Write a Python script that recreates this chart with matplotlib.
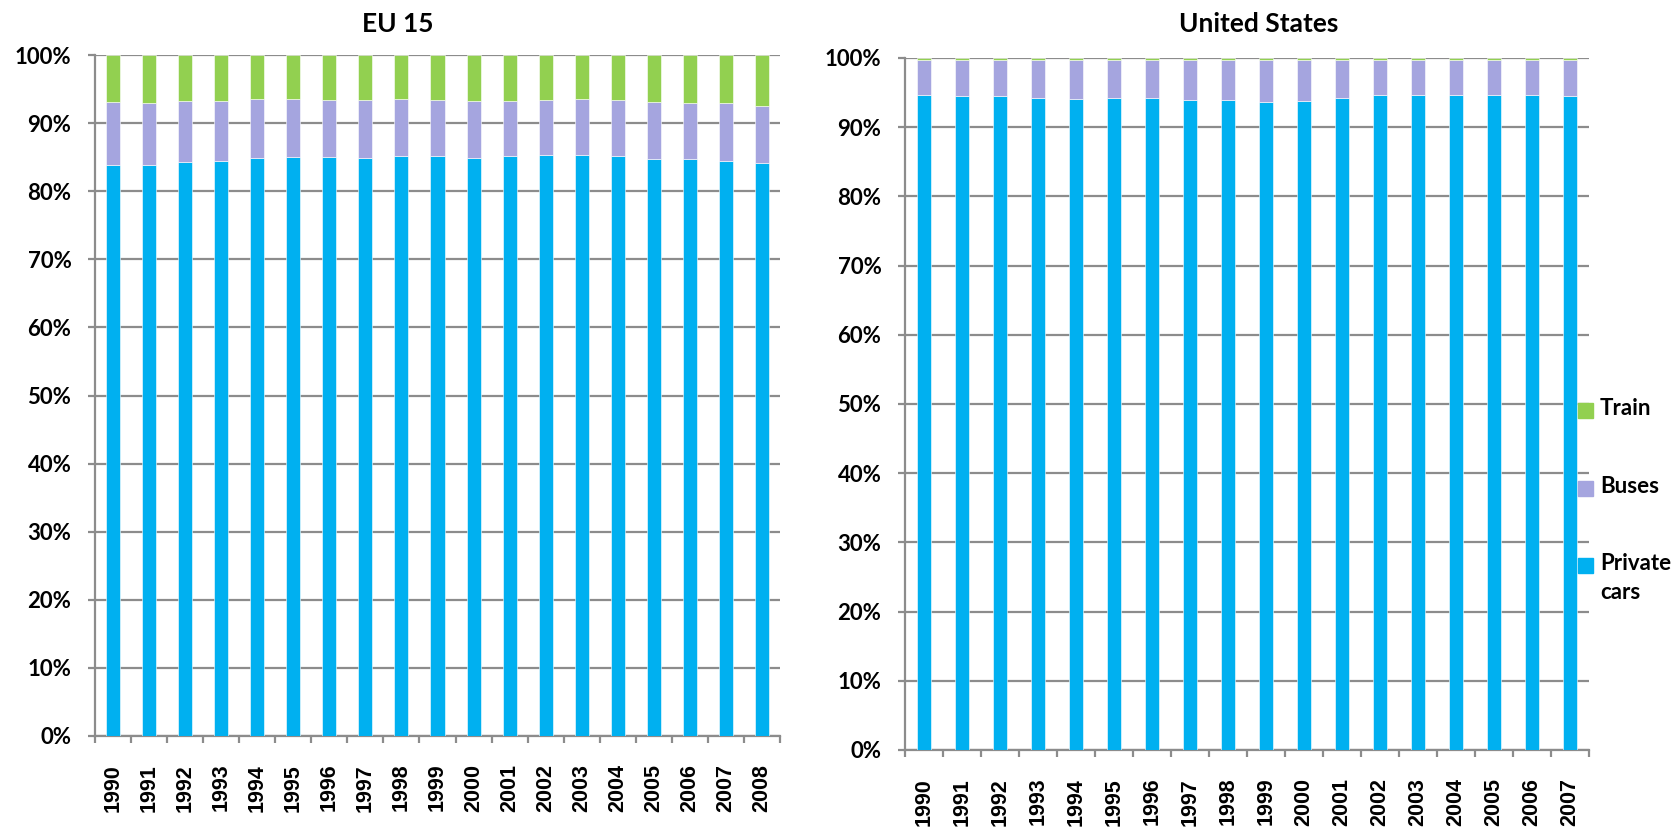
import numpy as np
import matplotlib.pyplot as plt
from matplotlib.patches import Rectangle

# Data (share of passenger-km, %)
eu_years = [str(y) for y in range(1990, 2009)]
eu_cars = [83.9, 83.8, 84.3, 84.5, 84.9, 85.0, 85.0, 84.9, 85.2, 85.1,
           84.9, 85.1, 85.3, 85.3, 85.1, 84.8, 84.8, 84.5, 84.1]
eu_buses = [9.2, 9.2, 8.9, 8.8, 8.7, 8.6, 8.4, 8.5, 8.3, 8.3,
            8.3, 8.1, 8.1, 8.2, 8.3, 8.3, 8.2, 8.5, 8.4]
eu_train = [6.9, 7.0, 6.8, 6.7, 6.4, 6.4, 6.6, 6.6, 6.5, 6.6,
            6.8, 6.8, 6.6, 6.5, 6.6, 6.9, 7.0, 7.0, 7.5]

us_years = [str(y) for y in range(1990, 2008)]
us_cars = [94.7, 94.5, 94.5, 94.2, 94.1, 94.2, 94.2, 94.0, 94.0, 93.7,
           93.8, 94.2, 94.6, 94.6, 94.7, 94.6, 94.7, 94.5]
us_train = [0.3] * 18
us_buses = [100 - c - t for c, t in zip(us_cars, us_train)]

legend_labels = ['Train', 'Buses', 'Private\ncars']

c_cars = '#00B0F0'
c_buses = '#A5A5DF'
c_train = '#92D050'
grid_c = '#8C8C8C'

tick_font = 'Lato'
year_font = 'Liberation Sans'

W, H = 1680, 827
fig = plt.figure(figsize=(W / 100, H / 100), dpi=100)
ax1 = fig.add_axes([95 / W, 1 - 736 / H, 685 / W, 681 / H])
ax2 = fig.add_axes([905 / W, 1 - 750 / H, 684 / W, 692 / H])


def draw(ax, years, cars, buses, train):
    x = np.arange(len(years))
    cars = np.array(cars)
    buses = np.array(buses)
    train = np.array(train)
    kw = dict(width=0.39, edgecolor='white', linewidth=0.4, zorder=3)
    ax.bar(x, cars, color=c_cars, **kw)
    ax.bar(x, buses, bottom=cars, color=c_buses, **kw)
    ax.bar(x, train, bottom=cars + buses, color=c_train, **kw)
    ax.set_xlim(-0.5, len(years) - 0.5)
    ax.set_ylim(0, 100)
    ax.set_yticks(range(0, 101, 10))
    ax.set_yticklabels([f'{v}%' for v in range(0, 101, 10)],
                       fontsize=16, fontweight='bold', family=tick_font)
    ax.yaxis.grid(True, color=grid_c, linewidth=1.6, zorder=0)
    ax.set_xticks(x)
    ax.set_xticklabels(years, rotation=90, fontsize=15.5, fontweight='bold',
                       family=year_font)
    ax.tick_params(axis='x', length=0, pad=20)
    ax.set_xticks(np.arange(-0.5, len(years), 1), minor=True)
    ax.tick_params(axis='x', which='minor', length=5, width=1.6, color=grid_c)
    ax.tick_params(axis='y', length=5, width=1.6, color=grid_c, pad=12)
    for s in ['top', 'right']:
        ax.spines[s].set_visible(False)
    for s in ['left', 'bottom']:
        ax.spines[s].set_color(grid_c)
        ax.spines[s].set_linewidth(1.6)


draw(ax1, eu_years, eu_cars, eu_buses, eu_train)
draw(ax2, us_years, us_cars, us_buses, us_train)

fig.text(398 / W, 1 - 24 / H, 'EU 15', ha='center', va='center',
         fontsize=19, fontweight='bold', family=tick_font)
fig.text(1259 / W, 1 - 24 / H, 'United States', ha='center', va='center',
         fontsize=19, fontweight='bold', family=tick_font)

# legend drawn by hand (first text line aligned with the swatch, like Excel)
for label, color, yc in zip(legend_labels, [c_train, c_buses, c_cars],
                            [410, 488, 565]):
    fig.add_artist(Rectangle((1578 / W, 1 - (yc + 7.5) / H), 15 / W, 15 / H,
                             transform=fig.transFigure, color=color))
    fig.text(1600 / W, 1 - (yc - 12) / H, label, ha='left', va='top',
             fontsize=16, fontweight='bold', family=tick_font,
             linespacing=1.45)

fig.savefig('out.png', dpi=100)
